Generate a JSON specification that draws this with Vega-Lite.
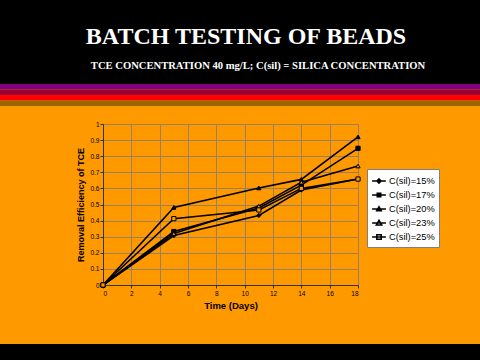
{
  "$schema": "https://vega.github.io/schema/vega-lite/v6.json",
  "background": "#FF9900",
  "padding": 0,
  "spacing": 0,
  "config": {
    "view": {"stroke": null},
    "font": "Liberation Sans",
    "concat": {"spacing": 0}
  },
  "vconcat": [
    {
      "width": 480,
      "height": 84,
      "view": {"fill": "#000000", "stroke": null},
      "layer": [
        {
          "data": {"values": [{"label": "BATCH TESTING OF BEADS"}]},
          "mark": {"type": "text", "font": "Liberation Serif", "fontWeight": "bold", "fontSize": 24, "color": "#FFFFFF", "baseline": "alphabetic", "align": "center", "dx": 6, "dy": 1.5},
          "encoding": {"text": {"field": "label"}}
        },
        {
          "data": {"values": [{"label": "TCE CONCENTRATION 40 mg/L; C(sil) = SILICA CONCENTRATION"}]},
          "mark": {"type": "text", "font": "Liberation Serif", "fontWeight": "bold", "fontSize": 10.6, "color": "#FFFFFF", "baseline": "alphabetic", "align": "center", "dx": 18, "dy": 26.5},
          "encoding": {"text": {"field": "label"}}
        }
      ]
    },
    {
      "width": 480,
      "height": 22,
      "data": {"values": [
        {"band": 1, "colour": "purple"},
        {"band": 2, "colour": "crimson"},
        {"band": 3, "colour": "red"},
        {"band": 4, "colour": "brown"}
      ]},
      "mark": {"type": "rect"},
      "encoding": {
        "y": {"field": "band", "type": "ordinal", "axis": null, "scale": {"paddingInner": 0, "paddingOuter": 0}},
        "color": {"field": "colour", "type": "nominal", "legend": null,
          "scale": {"domain": ["purple", "crimson", "red", "brown"], "range": ["#800080", "#990033", "#FF0000", "#996600"]}}
      }
    },
    {
      "hconcat": [
        {
          "width": 76,
          "height": 220,
          "data": {"values": [{"part": "margin"}]},
          "mark": {"type": "rect", "color": "#FF9900"},
          "encoding": {"y": {"field": "part", "type": "nominal", "axis": null, "scale": {"paddingInner": 0, "paddingOuter": 0}}}
        },
        {
          "width": 255,
          "height": 161,
          "title": {"text": " ", "fontSize": 8, "offset": 7},
          "data": {"values": [
            {"series": "C(sil)=15%", "time": 0, "eff": 0},
            {"series": "C(sil)=15%", "time": 5, "eff": 0.307},
            {"series": "C(sil)=15%", "time": 11, "eff": 0.432},
            {"series": "C(sil)=15%", "time": 14, "eff": 0.59},
            {"series": "C(sil)=15%", "time": 18, "eff": 0.658},
            {"series": "C(sil)=17%", "time": 0, "eff": 0},
            {"series": "C(sil)=17%", "time": 5, "eff": 0.332},
            {"series": "C(sil)=17%", "time": 11, "eff": 0.478},
            {"series": "C(sil)=17%", "time": 14, "eff": 0.62},
            {"series": "C(sil)=17%", "time": 18, "eff": 0.849},
            {"series": "C(sil)=20%", "time": 0, "eff": 0},
            {"series": "C(sil)=20%", "time": 5, "eff": 0.482},
            {"series": "C(sil)=20%", "time": 11, "eff": 0.603},
            {"series": "C(sil)=20%", "time": 14, "eff": 0.656},
            {"series": "C(sil)=20%", "time": 18, "eff": 0.92},
            {"series": "C(sil)=23%", "time": 0, "eff": 0},
            {"series": "C(sil)=23%", "time": 5, "eff": 0.32},
            {"series": "C(sil)=23%", "time": 11, "eff": 0.49},
            {"series": "C(sil)=23%", "time": 14, "eff": 0.638},
            {"series": "C(sil)=23%", "time": 18, "eff": 0.739},
            {"series": "C(sil)=25%", "time": 0, "eff": 0},
            {"series": "C(sil)=25%", "time": 5, "eff": 0.412},
            {"series": "C(sil)=25%", "time": 11, "eff": 0.466},
            {"series": "C(sil)=25%", "time": 14, "eff": 0.6},
            {"series": "C(sil)=25%", "time": 18, "eff": 0.658}
          ]},
          "encoding": {
            "x": {"field": "time", "type": "quantitative",
              "scale": {"domain": [0, 18], "nice": false, "zero": false},
              "axis": {"title": "Time (Days)", "values": [0, 2, 4, 6, 8, 10, 12, 14, 16, 18],
                "labelFontSize": 6.5, "labelColor": "#000000", "labelPadding": 2, "tickSize": 3, "tickColor": "#333333",
                "domainColor": "#333333", "gridColor": "#9A8060", "gridWidth": 1,
                "titleFontSize": 9.5, "titleFontWeight": "bold", "titleColor": "#000000", "titlePadding": 4}},
            "y": {"field": "eff", "type": "quantitative",
              "scale": {"domain": [0, 1], "nice": false},
              "axis": {"title": "Removal Efficiency of TCE", "values": [0, 0.1, 0.2, 0.3, 0.4, 0.5, 0.6, 0.7, 0.8, 0.9, 1], "format": ".1~f",
                "labelFontSize": 6.5, "labelColor": "#000000", "labelPadding": 1, "tickSize": 3, "tickColor": "#333333",
                "domainColor": "#333333", "gridColor": "#9A8060", "gridWidth": 1,
                "titleFontSize": 9, "titleFontWeight": "bold", "titleColor": "#000000", "titlePadding": 4}}
          },
          "layer": [
            {
              "mark": {"type": "line", "color": "#000000", "strokeWidth": 1.6},
              "encoding": {"detail": {"field": "series", "type": "nominal"}}
            },
            {
              "mark": {"type": "point", "filled": true, "stroke": "#000000", "strokeWidth": 1, "size": 18, "opacity": 1},
              "encoding": {
                "shape": {"field": "series", "type": "nominal", "legend": null,
                  "scale": {"domain": ["C(sil)=15%", "C(sil)=17%", "C(sil)=20%", "C(sil)=23%", "C(sil)=25%"],
                    "range": ["diamond", "square", "triangle-up", "triangle-up", "square"]}},
                "fill": {"field": "series", "type": "nominal", "legend": null,
                  "scale": {"domain": ["C(sil)=15%", "C(sil)=17%", "C(sil)=20%", "C(sil)=23%", "C(sil)=25%"],
                    "range": ["#000000", "#000000", "#000000", "#FF9900", "#FF9900"]}}
              }
            },
            {
              "transform": [{"filter": "false"}],
              "mark": {"type": "point", "filled": false, "stroke": "#000000", "strokeWidth": 0.9, "opacity": 1},
              "encoding": {
                "shape": {"field": "series", "type": "nominal",
                  "scale": {"domain": ["C(sil)=15%", "C(sil)=17%", "C(sil)=20%", "C(sil)=23%", "C(sil)=25%"],
                    "range": [
                      "M-1,0H1M-0.3,0L0,-0.3L0.3,0L0,0.3ZM0,-0.3V0.3M-0.15,-0.12V0.12M0.15,-0.12V0.12",
                      "M-1,0H1M-0.26,-0.26H0.26V0.26H-0.26ZM-0.26,-0.13H0.26M-0.26,0.13H0.26",
                      "M-1,0H1M-0.33,0.25L0,-0.33L0.33,0.25ZM0,-0.25V0.25M-0.16,0.05V0.25M0.16,0.05V0.25",
                      "M-1,0H1M-0.4,0.3L0,-0.4L0.4,0.3Z",
                      "M-1,0H1M-0.32,-0.32H0.32V0.32H-0.32Z"
                    ]},
                  "legend": {"title": null, "orient": "none", "legendX": 264, "legendY": 45,
                    "fillColor": "#FFFFFF", "strokeColor": "#808080", "padding": 4,
                    "labelFont": "Liberation Sans", "labelFontSize": 9.3, "labelColor": "#000000", "labelOffset": 2,
                    "symbolSize": 190, "rowPadding": 0,
                    "encode": {"symbols": {"update": {
                      "stroke": {"value": "#000000"}, "strokeWidth": {"value": 0.9}, "opacity": {"value": 1}}}}}}
              }
            }
          ],
          "resolve": {"scale": {"shape": "independent", "fill": "independent"}}
        }
      ]
    },
    {
      "width": 480,
      "height": 16,
      "view": {"fill": "#000000", "stroke": null},
      "data": {"values": [{"part": "footer"}]},
      "mark": {"type": "rect", "color": "#000000"},
      "encoding": {"y": {"field": "part", "type": "nominal", "axis": null, "scale": {"paddingInner": 0, "paddingOuter": 0}}}
    }
  ]
}
